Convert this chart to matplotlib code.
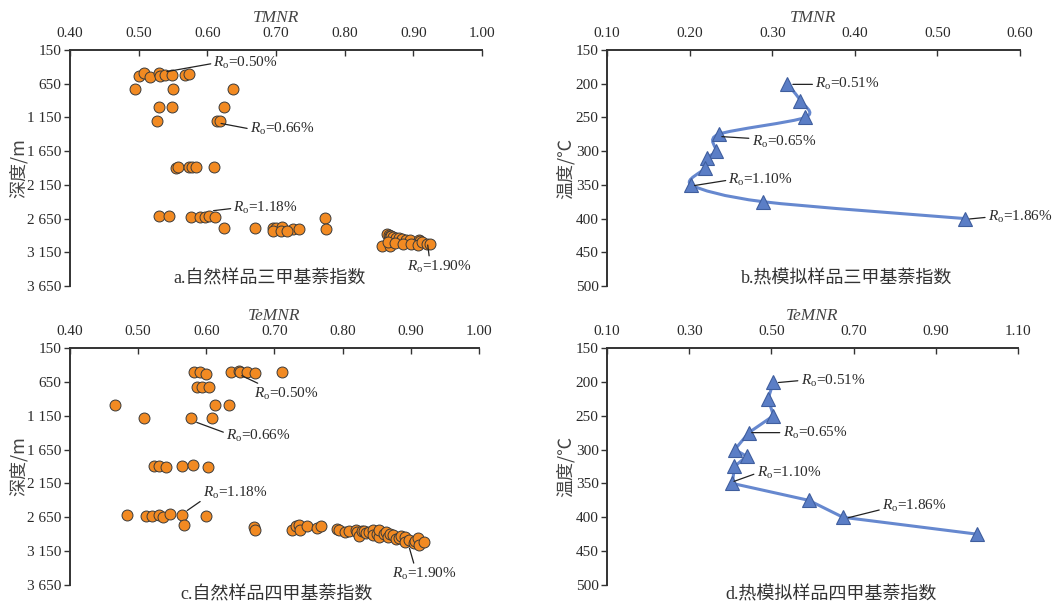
import numpy as np
import matplotlib
matplotlib.use('Agg')
import matplotlib.pyplot as plt
from matplotlib.path import Path
from matplotlib.patches import PathPatch

plt.rcParams['font.family'] = ['Liberation Serif', 'Noto Sans CJK SC']
plt.rcParams['mathtext.fontset'] = 'custom'
plt.rcParams['mathtext.it'] = 'Liberation Serif:italic'
plt.rcParams['mathtext.rm'] = 'Liberation Serif'

# ---- data ----
# a. natural samples, TMNR vs depth
tmnr_nat = [0.500, 0.508, 0.517, 0.529, 0.531, 0.538, 0.549, 0.567, 0.574,
            0.494, 0.550, 0.637,
            0.529, 0.548, 0.625,
            0.527, 0.614, 0.618,
            0.554, 0.558, 0.574, 0.578, 0.583, 0.610,
            0.529, 0.544, 0.576, 0.589, 0.597, 0.602, 0.611, 0.772,
            0.625, 0.670, 0.695, 0.700, 0.709, 0.725, 0.734, 0.773, 0.696, 0.707, 0.716,
            0.862, 0.864, 0.866, 0.868, 0.871, 0.875, 0.879, 0.884, 0.889, 0.895, 0.908, 0.910,
            0.854, 0.866, 0.863, 0.873, 0.885, 0.897, 0.907, 0.912, 0.920, 0.924]
depth_a = [536, 496, 545, 490, 530, 515, 515, 515, 505,
           733, 733, 733,
           990, 990, 990,
           1208, 1208, 1200,
           1895, 1890, 1890, 1890, 1890, 1880,
           2610, 2610, 2630, 2630, 2630, 2615, 2630, 2640,
           2795, 2795, 2790, 2790, 2780, 2800, 2800, 2800, 2834, 2834, 2834,
           2885, 2895, 2905, 2915, 2925, 2935, 2945, 2955, 2965, 2975, 2965, 2980,
           3060, 3050, 3000, 3010, 3030, 3030, 3035, 3000, 3025, 3025]

# c. natural samples, TeMNR vs depth
temnr_nat = [0.582, 0.590, 0.599, 0.636, 0.648, 0.649, 0.660, 0.671, 0.711,
             0.587, 0.594, 0.604,
             0.466, 0.612, 0.633,
             0.508, 0.577, 0.608,
             0.523, 0.531, 0.541, 0.565, 0.580, 0.602,
             0.484, 0.511, 0.521, 0.531, 0.536, 0.546, 0.564, 0.599, 0.567,
             0.670, 0.672, 0.726, 0.732, 0.736, 0.737, 0.748, 0.763, 0.768,
             0.791, 0.794, 0.804, 0.810, 0.819, 0.821, 0.824, 0.828, 0.831, 0.834,
             0.838, 0.844, 0.845, 0.850, 0.854, 0.854, 0.860, 0.864, 0.867, 0.870,
             0.874, 0.878, 0.882, 0.886, 0.891, 0.892, 0.898, 0.904, 0.906, 0.911,
             0.912, 0.919]
depth_c = [510, 505, 535, 510, 490, 505, 505, 520, 500,
           732, 732, 732,
           988, 988, 988,
           1185, 1185, 1185,
           1900, 1900, 1905, 1900, 1880, 1910,
           2614, 2625, 2625, 2620, 2640, 2600, 2614, 2630, 2767,
           2792, 2831, 2836, 2772, 2762, 2841, 2782, 2806, 2772,
           2816, 2836, 2861, 2850, 2836, 2861, 2920, 2860, 2846, 2885,
           2870, 2836, 2915, 2890, 2944, 2836, 2900, 2870, 2944, 2890,
           2915, 2974, 2950, 2930, 2944, 3013, 2990, 3033, 3000, 2954,
           3058, 3018]

# b. pyrolysis samples, TMNR vs temperature
temp_b = [200, 225, 250, 275, 300, 310, 325, 350, 375, 400]
tmnr_sim = [0.318, 0.334, 0.340, 0.235, 0.232, 0.221, 0.219, 0.202, 0.289, 0.533]

# d. pyrolysis samples, TeMNR vs temperature
temp_d = [200, 225, 250, 275, 300, 310, 325, 350, 375, 400, 425]
temnr_sim = [0.505, 0.492, 0.505, 0.445, 0.411, 0.440, 0.410, 0.405, 0.591, 0.674, 1.001]

depth_ticks = [150, 650, 1150, 1650, 2150, 2650, 3150, 3650]
depth_labels = ['150', '650', '1 150', '1 650', '2 150', '2 650', '3 150', '3 650']
temp_ticks = [150, 200, 250, 300, 350, 400, 450, 500]

orange = '#F28A22'
blue_fill = '#5B7EC6'
blue_line = '#6688CF'
tick_col = '#333333'
text_col = '#2a2a2a'


def style_axes(ax, xlabel, ylabel, xticks, ylab_x):
    ax.xaxis.tick_top()
    ax.xaxis.set_label_position('top')
    ax.spines['right'].set_visible(False)
    ax.spines['bottom'].set_visible(False)
    for s in ['top', 'left']:
        ax.spines[s].set_linewidth(1.4)
        ax.spines[s].set_color(tick_col)
    ax.set_xticks(xticks)
    ax.set_xticklabels(['%.2f' % v for v in xticks])
    ax.tick_params(axis='x', direction='in', length=4, width=1, colors=tick_col,
                   labelsize=11, pad=7, labelcolor=text_col)
    ax.tick_params(axis='y', direction='out', length=4, width=1, colors=tick_col,
                   labelsize=11, pad=2, labelcolor=text_col)
    ax.set_xlabel(xlabel, fontsize=12.5, style='italic', fontweight='light',
                  labelpad=4, color='#444444')
    ax.set_ylabel(ylabel, fontsize=13, family=['Noto Sans CJK SC', 'Liberation Serif'],
                  color='#444444')
    ax.yaxis.set_label_coords(ylab_x, 0.5)


def note(ax, txt, xy, xytext, relpos):
    ax.annotate(r'$\mathit{R}_{\rm o}$=' + txt, xy=xy, xytext=xytext, fontsize=11,
                ha='left', va='center', color=text_col,
                arrowprops=dict(arrowstyle='-', lw=0.9, color='#222222',
                                relpos=relpos, shrinkA=0, shrinkB=0))


def smooth_line(ax, xs, ys, **kw):
    pts = np.column_stack([xs, ys]).astype(float)
    n = len(pts)
    verts = [pts[0]]
    codes = [Path.MOVETO]
    for i in range(n - 1):
        p0 = pts[i - 1] if i > 0 else pts[i]
        p1 = pts[i]
        p2 = pts[i + 1]
        p3 = pts[i + 2] if i + 2 < n else pts[i + 1]
        verts += [p1 + (p2 - p0) / 7.0, p2 - (p3 - p1) / 7.0, p2]
        codes += [Path.CURVE4] * 3
    ax.add_patch(PathPatch(Path(verts, codes), fill=False, **kw))


def caption(ax, txt, x, y):
    ax.text(x, y, txt, transform=ax.transAxes, ha='center', va='center',
            fontsize=13, color='#333333',
            family=['Liberation Serif', 'Noto Sans CJK SC'])


fig = plt.figure(figsize=(10.59, 6.05), dpi=100)

ax_a = fig.add_axes([0.0661, 0.5273, 0.3890, 0.3901])
ax_b = fig.add_axes([0.5732, 0.5273, 0.3900, 0.3901])
ax_c = fig.add_axes([0.0661, 0.0331, 0.3862, 0.3917])
ax_d = fig.add_axes([0.5732, 0.0331, 0.3881, 0.3917])

# a
ax_a.scatter(tmnr_nat, depth_a, s=62, c=orange, edgecolors='#3a3a3a',
             linewidths=0.7, zorder=3)
ax_a.set_xlim(0.40, 1.00)
ax_a.set_ylim(3650, 150)
ax_a.set_yticks(depth_ticks)
ax_a.set_yticklabels(depth_labels)
style_axes(ax_a, 'TMNR', '深度/m', [0.40, 0.50, 0.60, 0.70, 0.80, 0.90, 1.00], -0.102)
note(ax_a, '0.50%', (0.541, 471), (0.609, 348), (0, 0.5))
note(ax_a, '0.66%', (0.620, 1240), (0.662, 1321), (0, 0.5))
note(ax_a, '1.18%', (0.609, 2533), (0.638, 2498), (0, 0.5))
note(ax_a, '1.90%', (0.921, 3042), (0.891, 3363), (0.35, 0.9))
caption(ax_a, 'a.自然样品三甲基萘指数', 0.485, 0.03)

# b
smooth_line(ax_b, tmnr_sim, temp_b, color=blue_line, lw=2.2, zorder=2)
ax_b.plot(tmnr_sim, temp_b, ls='none', marker='^', ms=10, mfc=blue_fill,
          mec='#3F5E9E', mew=0.8, zorder=3)
ax_b.set_xlim(0.10, 0.60)
ax_b.set_ylim(500, 150)
ax_b.set_yticks(temp_ticks)
style_axes(ax_b, 'TMNR', '温度/℃', [0.10, 0.20, 0.30, 0.40, 0.50, 0.60], -0.078)
note(ax_b, '0.51%', (0.325, 201), (0.352, 201), (0, 0.5))
note(ax_b, '0.65%', (0.239, 278.5), (0.275, 286), (0, 0.7))
note(ax_b, '1.10%', (0.206, 351), (0.247, 343), (0, 0.5))
note(ax_b, '1.86%', (0.539, 400.6), (0.561, 398), (0, 0.5))
caption(ax_b, 'b.热模拟样品三甲基萘指数', 0.58, 0.03)

# c
ax_c.scatter(temnr_nat, depth_c, s=62, c=orange, edgecolors='#3a3a3a',
             linewidths=0.7, zorder=3)
ax_c.set_xlim(0.40, 1.00)
ax_c.set_ylim(3650, 150)
ax_c.set_yticks(depth_ticks)
ax_c.set_yticklabels(depth_labels)
style_axes(ax_c, 'TeMNR', '深度/m', [0.40, 0.50, 0.60, 0.70, 0.80, 0.90, 1.00], -0.102)
note(ax_c, '0.50%', (0.652, 559), (0.670, 830), (0.2, 0.9))
note(ax_c, '0.66%', (0.586, 1249), (0.629, 1456), (0, 0.7))
note(ax_c, '1.18%', (0.572, 2550), (0.595, 2294), (0, 0.1))
note(ax_c, '1.90%', (0.898, 3107), (0.873, 3487), (0.35, 0.9))
caption(ax_c, 'c.自然样品四甲基萘指数', 0.506, -0.04)

# d
ax_d.plot(temnr_sim, temp_d, color=blue_line, lw=2.2, marker='^', ms=10,
          mfc=blue_fill, mec='#3F5E9E', mew=0.8, zorder=3)
ax_d.set_xlim(0.10, 1.10)
ax_d.set_ylim(500, 150)
ax_d.set_yticks(temp_ticks)
style_axes(ax_d, 'TeMNR', '温度/℃', [0.10, 0.30, 0.50, 0.70, 0.90, 1.10], -0.078)
note(ax_d, '0.51%', (0.517, 201), (0.571, 198), (0, 0.5))
note(ax_d, '0.65%', (0.452, 275), (0.527, 275), (0, 0.5))
note(ax_d, '1.10%', (0.409, 347), (0.464, 335), (0, 0.5))
note(ax_d, '1.86%', (0.687, 400.7), (0.769, 383.5), (0, 0.3))
caption(ax_d, 'd.热模拟样品四甲基萘指数', 0.545, -0.04)

fig.savefig('out.png', dpi=100)
